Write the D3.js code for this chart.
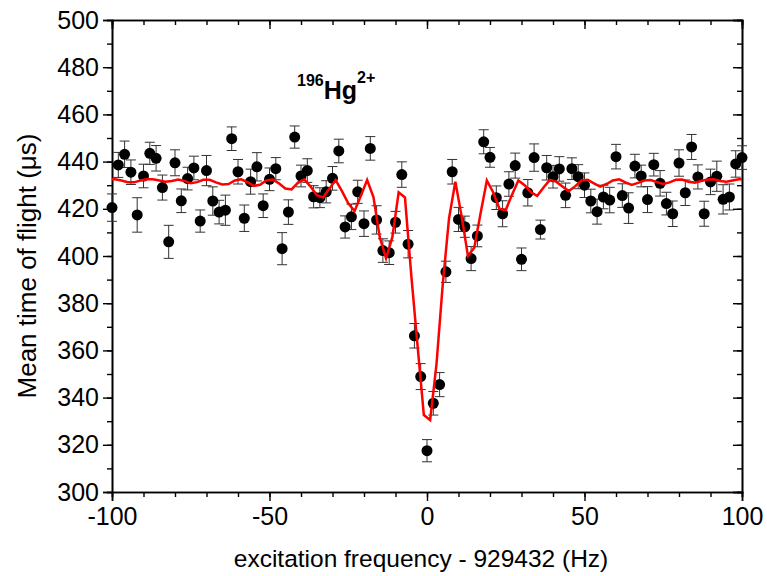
<!DOCTYPE html>
<html>
<head>
<meta charset="utf-8">
<script src="https://cdn.jsdelivr.net/npm/d3@7"></script>
<style>
  body { margin: 0; background: #fff; }
  svg { font-family: "Liberation Sans", Arial, sans-serif; }
</style>
</head>
<body>
<div id="chart"></div>
<script>
// measured points, 2 Hz steps from -100 to 100
const freq = d3.range(-100, 101, 2);
const tof = [
  420.5, 438.6, 443.1, 435.5, 417.4, 433.9, 443.5, 441.4, 429, 406, 439.5,
  423.4, 432.8, 437.3, 414.8, 436.2, 423.3, 418.6, 419.4, 449.7, 435.7,
  416, 431.5, 437.8, 421.3, 432.5, 437, 403.1, 418.6, 450.4, 433.9,
  436.2, 425.1, 424.7, 427.2, 432.9, 444.5, 412.3, 416.6, 427.2, 413.7,
  445.6, 415.3, 402.3, 401.4, 414.3, 434.5, 405, 366.2, 348.9, 317.5,
  337.6, 345.5, 393.3, 435.7, 415.5, 412.4, 398.9, 408.5, 448.4,
  441.8, 424.7, 417.9, 430.5, 438.3, 398.6, 426.8, 441.7, 411.2, 437.4,
  433.6, 436.9, 425.7, 437, 433.6, 430, 423.3, 418.8, 425, 423.7, 442.1,
  425.6, 420.3, 438.1, 433.9, 423.9, 438.7, 430.8, 422.2, 417.9, 439.4,
  426.8, 446.2, 433.5, 417.9, 431.4, 433.8, 424, 425, 439, 441.7
];
const tofErr = [
  5.8, 5.3, 5.6, 5.2, 7.3, 5, 4.7, 5.4, 5.3, 7, 5.5,
  5, 4.8, 5, 4.7, 6.4, 6, 5, 6.4, 5, 5.2,
  5.6, 5.3, 6, 5, 4.8, 4.7, 6.8, 5.2, 4.7, 4.6,
  5, 4.7, 4.2, 4.7, 5, 5, 4.7, 5.4, 4.9, 5.4,
  5, 6, 5, 5, 4.6, 5.4, 5.8, 5.2, 5.5, 4.7,
  5, 5.1, 4.5, 5.2, 5.1, 4.5, 5.1, 4.6, 5.1,
  4.2, 5, 5.5, 5.2, 5.3, 4.8, 5.6, 5.8, 4, 5.2,
  4.8, 5.2, 5.2, 4.6, 5.1, 5.2, 5, 5.3, 5, 5.4, 5.2,
  5, 6.5, 5, 4.6, 5.5, 4.8, 5.4, 4.8, 5.4, 5.6,
  5.4, 5.3, 5.1, 5.3, 5.4, 6.4, 6.2, 5.5, 5.6, 5
];

// fitted curve
const fitFreq = [-100, ...d3.range(-99, 100, 2), 100];
const fitTof = [
  432.5,
  432.5, 432, 431.3, 431.2, 432, 432.5, 432.5, 432, 431.5, 431.8,
  432.4, 431.8, 430.8, 431.3, 432.3, 432.3, 431.2, 430.3, 430.5, 432,
  432.5, 431.3, 429.7, 430.2, 432, 432.4, 430.8, 428.6, 428.2, 431,
  432.5, 429.5, 425.8, 424.8, 428.5, 432.2, 427.5, 422.3, 419, 425.5,
  432.2, 425, 408, 399, 408, 427, 424.8, 392, 362, 332.6,
  330.5, 354, 388, 416, 431.5, 416.8, 400, 403.5, 418, 432,
  427, 420, 419.5, 426, 432, 430, 427, 425.5, 429, 432.2,
  431.5, 429.5, 427.5, 429.5, 432, 432.3, 430.8, 429.4, 430.5, 432,
  432.5, 431.2, 430.1, 431, 432, 432.2, 431.3, 430.5, 431.2, 432.3,
  432.4, 431.5, 431.1, 431.8, 432.4, 432.5, 431.8, 431.5, 432, 432.5,
  432.5
];

const xTicks = [-100, -50, 0, 50, 100];
const yTicks = [300, 320, 340, 360, 380, 400, 420, 440, 460, 480, 500];

const width = 767;
const height = 576;
const marginTop = 20;
const marginRight = 25;
const marginBottom = 84;
const marginLeft = 112;

const x = d3.scaleLinear().domain([-100, 100]).range([marginLeft, width - marginRight]);
const y = d3.scaleLinear().domain([300, 500]).range([height - marginBottom, marginTop]);

const svg = d3.select("#chart").append("svg")
  .attr("width", width)
  .attr("height", height)
  .attr("viewBox", [0, 0, width, height]);

const xMinor = d3.range(-100, 101, 10);
const yMinor = d3.range(300, 501, 10);

function styleAxis(g) {
  g.attr("font-family", null).attr("font-size", 25);
  g.select(".domain").attr("stroke-width", 1.6);
  g.selectAll(".tick line").attr("stroke-width", 1.4);
}

// minor ticks
svg.append("g")
  .attr("transform", `translate(0,${height - marginBottom})`)
  .call(d3.axisBottom(x).tickValues(xMinor).tickSize(5).tickFormat(""))
  .call(styleAxis);
svg.append("g")
  .attr("transform", `translate(0,${marginTop})`)
  .call(d3.axisTop(x).tickValues(xMinor).tickSize(-5).tickFormat(""))
  .call(styleAxis);
svg.append("g")
  .attr("transform", `translate(${marginLeft},0)`)
  .call(d3.axisLeft(y).tickValues(yMinor).tickSize(5).tickFormat(""))
  .call(styleAxis);
svg.append("g")
  .attr("transform", `translate(${width - marginRight},0)`)
  .call(d3.axisRight(y).tickValues(yMinor).tickSize(-5).tickFormat(""))
  .call(styleAxis);

// major ticks + labels (plain hyphen for negatives, as in the original)
svg.append("g")
  .attr("transform", `translate(0,${height - marginBottom})`)
  .call(d3.axisBottom(x).tickValues(xTicks).tickSize(9).tickPadding(6).tickFormat((d) => String(d)))
  .call(styleAxis);
svg.append("g")
  .attr("transform", `translate(0,${marginTop})`)
  .call(d3.axisTop(x).tickValues(xTicks).tickSize(-9).tickFormat(""))
  .call(styleAxis);
svg.append("g")
  .attr("transform", `translate(${marginLeft},0)`)
  .call(d3.axisLeft(y).tickValues(yTicks).tickSize(9).tickPadding(4).tickFormat((d) => String(d)))
  .call(styleAxis);
svg.append("g")
  .attr("transform", `translate(${width - marginRight},0)`)
  .call(d3.axisRight(y).tickValues(yTicks).tickSize(-9).tickFormat(""))
  .call(styleAxis);

// error bars
const errG = svg.append("g").attr("stroke", "#333").attr("stroke-width", 1);
freq.forEach((f, i) => {
  const cx = x(f);
  const y0 = y(tof[i] - tofErr[i]);
  const y1 = y(tof[i] + tofErr[i]);
  errG.append("line").attr("x1", cx).attr("x2", cx).attr("y1", y0).attr("y2", y1);
  errG.append("line").attr("x1", cx - 5).attr("x2", cx + 5).attr("y1", y0).attr("y2", y0);
  errG.append("line").attr("x1", cx - 5).attr("x2", cx + 5).attr("y1", y1).attr("y2", y1);
});

// points
svg.append("g")
  .selectAll("circle")
  .data(freq)
  .join("circle")
  .attr("cx", (d) => x(d))
  .attr("cy", (_, i) => y(tof[i]))
  .attr("r", 5.5)
  .attr("fill", "#000");

// fit line
const line = d3.line()
  .x((d) => x(d))
  .y((_, i) => y(fitTof[i]));

svg.append("path")
  .attr("d", line(fitFreq))
  .attr("fill", "none")
  .attr("stroke", "#ff0000")
  .attr("stroke-width", 2.5)
  .attr("stroke-linejoin", "miter");

// labels
svg.append("text")
  .attr("x", 421)
  .attr("y", 567)
  .attr("text-anchor", "middle")
  .attr("font-size", 24.5)
  .text("excitation frequency - 929432 (Hz)");

svg.append("text")
  .attr("transform", `translate(36,266) rotate(-90)`)
  .attr("text-anchor", "middle")
  .attr("font-size", 26)
  .text("Mean time of flight (\u03bcs)");

const title = svg.append("text")
  .attr("x", 297)
  .attr("y", 99)
  .attr("font-weight", "bold");
title.append("tspan").attr("font-size", 16).attr("dy", -13).text("196");
title.append("tspan").attr("font-size", 25).attr("dy", 13).text("Hg");
title.append("tspan").attr("font-size", 16).attr("dy", -16).text("2+");
</script>
</body>
</html>
